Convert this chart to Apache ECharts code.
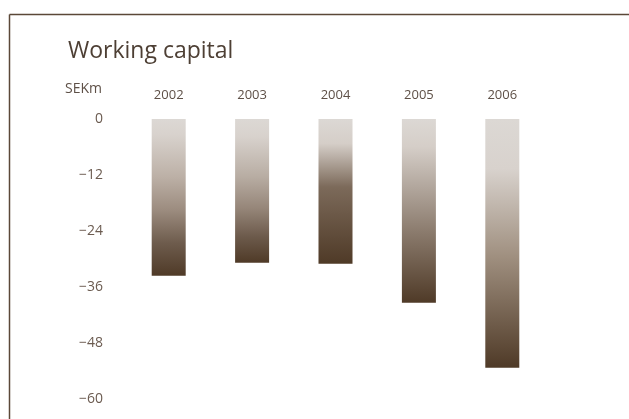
<!DOCTYPE html>
<html>
<head>
<meta charset="utf-8">
<script src="https://cdn.jsdelivr.net/npm/echarts@6/dist/echarts.min.js"></script>
<style>
html,body{margin:0;padding:0;background:#fff;}
#c{width:629px;height:419px;}
</style>
</head>
<body>
<div id="c"></div>
<script>
const categories = ['2002', '2003', '2004', '2005', '2006'];
const workingCapital = [-33.6, -30.8, -31.0, -39.4, -53.3];
const yTicks = [0, -12, -24, -36, -48, -60];

const light = '#dcd8d4';
const dark = '#4f3a27';
function grad(stops) {
  return new echarts.graphic.LinearGradient(0, 0, 0, 1, stops);
}
const gradients = [
  grad([{offset:0,color:light},{offset:0.1,color:'#d8d2cd'},{offset:0.37,color:'#bcb0a6'},{offset:0.58,color:'#9c8c7f'},{offset:0.79,color:'#6e5c4d'},{offset:1,color:dark}]),
  grad([{offset:0,color:light},{offset:0.12,color:'#d8d2cd'},{offset:0.4,color:'#b8ada3'},{offset:0.62,color:'#968679'},{offset:0.82,color:'#6c5a4b'},{offset:1,color:dark}]),
  grad([{offset:0,color:light},{offset:0.17,color:'#d5cec8'},{offset:0.47,color:'#7c6a5a'},{offset:1,color:dark}]),
  grad([{offset:0,color:light},{offset:0.15,color:'#d5cec8'},{offset:0.62,color:'#8a7a6c'},{offset:1,color:dark}]),
  grad([{offset:0,color:light},{offset:0.2,color:'#d8d2cd'},{offset:0.55,color:'#a09080'},{offset:1,color:dark}])
];

const chart = echarts.init(document.getElementById('c'), null, {renderer:'canvas'});
const font = '"Open Sans", "Noto Sans", sans-serif';
chart.setOption({
  animation: false,
  textStyle: {fontFamily: font},
  title: {
    text: 'Working capital',
    left: 63, top: 35,
    textStyle: {fontFamily: font, fontSize: 23, fontWeight: 'normal', color: '#4d3f34'}
  },
  grid: {left: 127, right: 85, top: 119, bottom: 20},
  xAxis: {
    type: 'category',
    data: categories,
    position: 'top',
    axisLine: {show: false},
    axisTick: {show: false},
    axisLabel: {margin: 17, fontSize: 13, color: '#5e5047', fontFamily: font}
  },
  yAxis: {
    type: 'value',
    min: -60, max: 0, interval: 12,
    axisLine: {show: false},
    axisTick: {show: false},
    splitLine: {show: false},
    axisLabel: {
      margin: 24, fontSize: 14, color: '#6b5b50', fontFamily: font,
      formatter: v => yTicks.includes(v) ? (v < 0 ? '\u2212' + Math.abs(v) : String(v)) : ''
    }
  },
  series: [{
    type: 'bar',
    barWidth: 34,
    data: workingCapital.map((v, i) => ({value: v, itemStyle: {color: gradients[i]}}))
  }],
  graphic: [
    {type: 'line', shape: {x1: 9.5, y1: 14.5, x2: 629, y2: 14.5}, style: {stroke: '#5b4838', lineWidth: 1.5}},
    {type: 'line', shape: {x1: 9.5, y1: 14.5, x2: 9.5, y2: 419}, style: {stroke: '#5b4838', lineWidth: 1.5}},
    {type: 'text', left: 65, top: 82, style: {text: 'SEKm', font: '14px ' + font, fill: '#5e5047'}}
  ]
});
</script>
</body>
</html>
